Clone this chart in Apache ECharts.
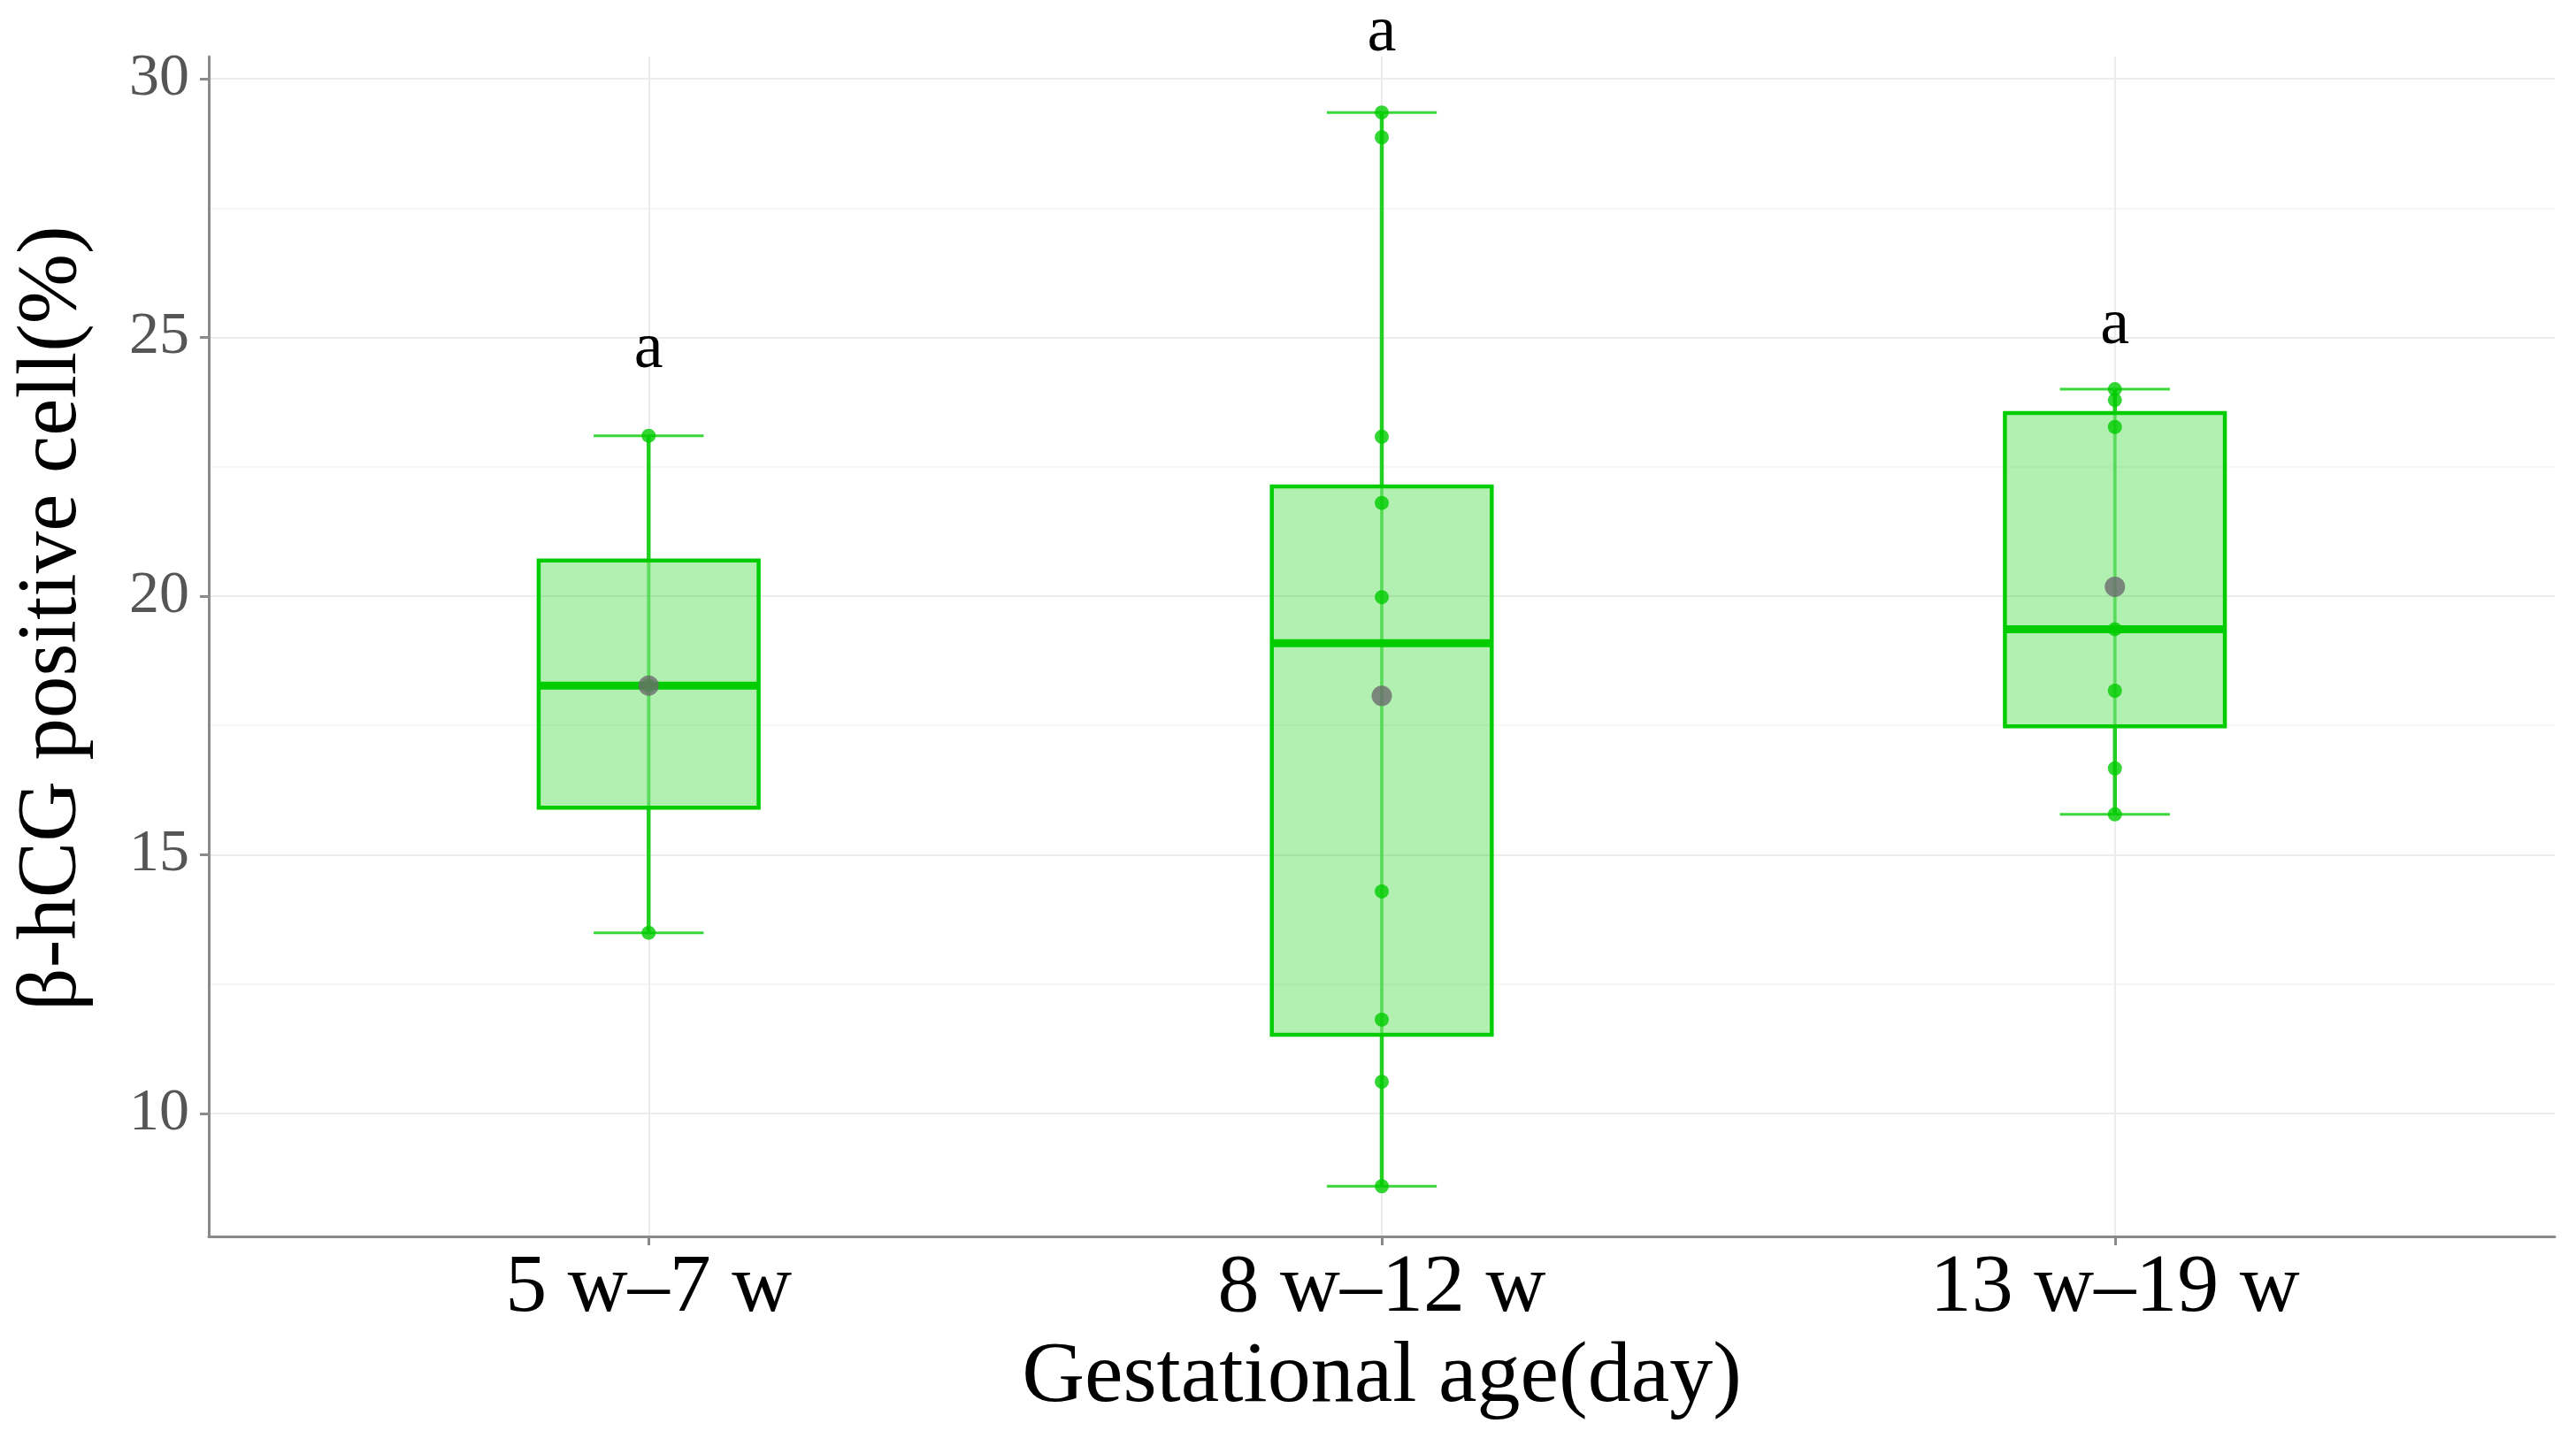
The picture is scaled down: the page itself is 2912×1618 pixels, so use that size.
<!DOCTYPE html>
<html>
<head>
<meta charset="utf-8">
<script src="https://cdn.jsdelivr.net/npm/echarts@6/dist/echarts.min.js"></script>
<style>
  html, body { margin: 0; padding: 0; background: #fff; }
  #main { width: 2912px; height: 1618px; }
</style>
</head>
<body>
<div id="main"></div>
<script>
// 分组
const categories = ["5 w–7 w", "8 w–12 w", "13 w–19 w"];
// 箱线图统计量
const boxMin = [13.49, 8.59, 15.78];
const boxQ1 = [15.91, 11.52, 17.48];
const boxMedian = [18.27, 19.09, 19.36];
const boxQ3 = [20.69, 22.12, 23.54];
const boxMax = [23.10, 29.35, 24.00];
// 均值(灰色点)
const meanValues = [18.27, 18.07, 20.18];
// 原始数据点
const points5to7 = [23.10, 18.27, 13.49];
const points8to12 = [29.35, 28.87, 23.08, 21.80, 19.98, 14.29, 11.81, 10.61, 8.59];
const points13to19 = [24.00, 23.79, 23.27, 19.36, 18.17, 16.67, 15.78];
// 显著性字母
const letters = ["a", "a", "a"];
const letterY = [24.76, 30.89, 25.23];
// 坐标轴刻度
const yTicks = [10, 15, 20, 25, 30];
const yMinorTicks = [12.5, 17.5, 22.5, 27.5];
const xTicks = [1, 2, 3];

const green = "#00cc00";
const serif = "'Liberation Serif', 'DejaVu Serif', serif";

let boxData = categories.map((c, i) => [i + 1, boxMin[i], boxQ1[i], boxMedian[i], boxQ3[i], boxMax[i]]);
let pointData = [];
[points5to7, points8to12, points13to19].forEach((arr, i) => {
  arr.forEach(v => pointData.push([i + 1, v]));
});
let meanData = meanValues.map((v, i) => [i + 1, v]);
let letterData = letters.map((t, i) => [i + 1, letterY[i], t]);

let myChart = echarts.init(document.getElementById("main"));

option = {
  backgroundColor: "#fff",
  animation: false,
  grid: { left: 236, right: 24, top: 64, bottom: 220 },
  xAxis: {
    type: "value",
    min: 0.4,
    max: 3.6,
    name: "Gestational age(day)",
    nameLocation: "middle",
    nameGap: 90,
    nameTextStyle: { fontFamily: serif, fontSize: 98, color: "#000" },
    axisLine: { show: true, lineStyle: { color: "#8a8a8a", width: 3 } },
    axisTick: { show: true, length: 10, customValues: xTicks, lineStyle: { color: "#8a8a8a", width: 3 } },
    axisLabel: {
      customValues: xTicks,
      margin: 12,
      fontFamily: serif,
      fontSize: 94,
      color: "#000",
      formatter: v => categories[Math.round(v) - 1] || ""
    },
    splitLine: { show: true, lineStyle: { color: "#ececec", width: 2 } }
  },
  yAxis: [
    {
      type: "value",
      min: 7.62,
      max: 30.43,
      name: "β-hCG positive cell(%)",
      nameLocation: "middle",
      nameGap: 128,
      // 标题略微上移
      nameTextStyle: { fontFamily: serif, fontSize: 95, color: "#000", padding: [0, 0, 0, 64] },
      axisLine: { show: true, lineStyle: { color: "#8a8a8a", width: 3 } },
      axisTick: { show: true, length: 10, customValues: yTicks, lineStyle: { color: "#8a8a8a", width: 3 } },
      axisLabel: { customValues: yTicks, margin: 22, fontFamily: serif, fontSize: 68, color: "#555" },
      splitLine: { show: true, lineStyle: { color: "#ececec", width: 2 } }
    },
    {
      // 次网格线
      type: "value",
      min: 7.62,
      max: 30.43,
      position: "left",
      axisLine: { show: false },
      axisTick: { show: false, customValues: yMinorTicks },
      axisLabel: { show: false, customValues: yMinorTicks },
      splitLine: { show: true, lineStyle: { color: "#f3f3f3", width: 1.5 } }
    }
  ],
  series: [
    {
      type: "custom",
      name: "box",
      data: boxData,
      z: 2,
      renderItem: function(params, api) {
        let x = api.value(0);
        let halfBox = api.size([0.15, 0])[0];
        let halfCap = api.size([0.075, 0])[0];
        let pMin = api.coord([x, api.value(1)]);
        let pQ1 = api.coord([x, api.value(2)]);
        let pMed = api.coord([x, api.value(3)]);
        let pQ3 = api.coord([x, api.value(4)]);
        let pMax = api.coord([x, api.value(5)]);
        let cx = pMin[0];
        return {
          type: "group",
          children: [
            { type: "line", shape: { x1: cx, y1: pMin[1], x2: cx, y2: pQ1[1] }, style: { stroke: "#22cf22", lineWidth: 4.5 } },
            { type: "line", shape: { x1: cx, y1: pQ3[1], x2: cx, y2: pMax[1] }, style: { stroke: "#22cf22", lineWidth: 4.5 } },
            { type: "line", shape: { x1: cx - halfCap, y1: pMin[1], x2: cx + halfCap, y2: pMin[1] }, style: { stroke: "#3ad63a", lineWidth: 3 } },
            { type: "line", shape: { x1: cx - halfCap, y1: pMax[1], x2: cx + halfCap, y2: pMax[1] }, style: { stroke: "#3ad63a", lineWidth: 3 } },
            {
              type: "rect",
              shape: { x: cx - halfBox, y: pQ3[1], width: halfBox * 2, height: pQ1[1] - pQ3[1] },
              style: { fill: "rgba(0,204,0,0.3)", stroke: green, lineWidth: 4.5 }
            },
            { type: "line", shape: { x1: cx, y1: pQ1[1], x2: cx, y2: pQ3[1] }, style: { stroke: "rgba(0,204,0,0.45)", lineWidth: 4 } },
            { type: "line", shape: { x1: cx - halfBox, y1: pMed[1], x2: cx + halfBox, y2: pMed[1] }, style: { stroke: green, lineWidth: 9 } }
          ]
        };
      }
    },
    {
      type: "scatter",
      name: "points",
      data: pointData,
      z: 3,
      symbol: "circle",
      symbolSize: 16,
      itemStyle: { color: green }
    },
    {
      type: "scatter",
      name: "mean",
      data: meanData,
      z: 4,
      symbol: "circle",
      symbolSize: 23,
      itemStyle: { color: "#6b6b6e" }
    },
    {
      type: "custom",
      name: "letters",
      data: letterData,
      clip: false,
      z: 5,
      renderItem: function(params, api) {
        let p = api.coord([api.value(0), api.value(1)]);
        return {
          type: "text",
          x: p[0],
          y: p[1],
          style: {
            text: letterData[params.dataIndex][2],
            fontFamily: serif,
            fontSize: 74,
            fill: "#000",
            align: "center",
            verticalAlign: "middle"
          }
        };
      }
    }
  ]
};
myChart.setOption(option);
</script>
</body>
</html>
